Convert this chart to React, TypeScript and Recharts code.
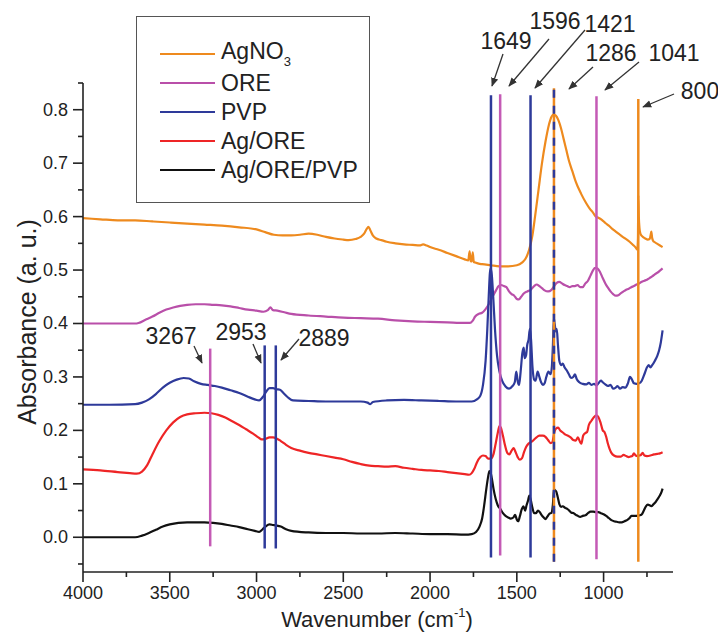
import React from "react";
import {
  LineChart,
  Line,
  XAxis,
  YAxis,
  ReferenceLine,
  Legend,
} from "recharts";

// ---- spectra (wavenumber cm-1 / absorbance a.u.) ----
const agno3Wn = [4000, 3900, 3800, 3700, 3600, 3500, 3400, 3300, 3200, 3100, 3000, 2950, 2900, 2850, 2800, 2750, 2700, 2650, 2600, 2550, 2500, 2470, 2430, 2400, 2380, 2365, 2355, 2345, 2330, 2310, 2280, 2250, 2200, 2150, 2100, 2060, 2040, 2020, 2000, 1950, 1900, 1850, 1800, 1780, 1772, 1766, 1760, 1754, 1748, 1740, 1720, 1700, 1650, 1600, 1550, 1500, 1470, 1450, 1430, 1410, 1395, 1375, 1355, 1335, 1315, 1300, 1290, 1275, 1260, 1245, 1230, 1215, 1200, 1180, 1160, 1130, 1100, 1080, 1060, 1045, 1030, 1010, 990, 970, 950, 930, 910, 890, 870, 850, 830, 815, 806, 802, 800, 797, 793, 788, 780, 770, 760, 745, 735, 729, 725, 720, 715, 705, 690, 675, 660];
const agno3Abs = [0.597, 0.595, 0.593, 0.593, 0.591, 0.589, 0.587, 0.585, 0.583, 0.58, 0.576, 0.571, 0.566, 0.565, 0.565, 0.566, 0.568, 0.566, 0.562, 0.559, 0.557, 0.556, 0.558, 0.562, 0.568, 0.577, 0.581, 0.575, 0.565, 0.559, 0.556, 0.553, 0.55, 0.548, 0.547, 0.546, 0.548, 0.546, 0.543, 0.538, 0.532, 0.526, 0.52, 0.518, 0.535, 0.517, 0.516, 0.533, 0.515, 0.514, 0.512, 0.511, 0.509, 0.507, 0.507, 0.509, 0.514, 0.521, 0.537, 0.565, 0.6, 0.65, 0.7, 0.74, 0.772, 0.787, 0.791, 0.789, 0.78, 0.765, 0.745, 0.725, 0.705, 0.685, 0.665, 0.643, 0.625, 0.615, 0.607, 0.6, 0.598, 0.594, 0.588, 0.583, 0.577, 0.572, 0.567, 0.562, 0.558, 0.553, 0.547, 0.542, 0.538, 0.56, 0.64, 0.6, 0.578, 0.568, 0.564, 0.561, 0.559, 0.557, 0.558, 0.565, 0.572, 0.56, 0.555, 0.552, 0.549, 0.546, 0.543];

const oreWn = [4000, 3850, 3700, 3680, 3640, 3600, 3560, 3520, 3480, 3440, 3400, 3350, 3300, 3250, 3200, 3150, 3100, 3050, 3000, 2960, 2935, 2920, 2905, 2880, 2840, 2800, 2700, 2600, 2500, 2400, 2300, 2200, 2100, 2000, 1900, 1800, 1770, 1755, 1740, 1720, 1700, 1680, 1660, 1640, 1620, 1605, 1590, 1575, 1560, 1545, 1530, 1515, 1500, 1488, 1475, 1460, 1440, 1420, 1400, 1385, 1370, 1355, 1340, 1320, 1300, 1285, 1270, 1255, 1240, 1225, 1210, 1195, 1180, 1165, 1150, 1135, 1120, 1105, 1090, 1075, 1060, 1048, 1035, 1020, 1005, 990, 975, 960, 945, 930, 915, 900, 885, 870, 855, 840, 825, 810, 795, 780, 765, 750, 735, 720, 705, 690, 675, 660];
const oreAbs = [0.4, 0.4, 0.4, 0.401, 0.407, 0.413, 0.42, 0.426, 0.43, 0.433, 0.435, 0.436, 0.436, 0.435, 0.434, 0.432, 0.429, 0.426, 0.424, 0.422, 0.425, 0.43, 0.425, 0.424, 0.421, 0.418, 0.415, 0.413, 0.411, 0.41, 0.409, 0.406, 0.404, 0.403, 0.402, 0.401, 0.401, 0.405, 0.413, 0.418, 0.42, 0.427, 0.437, 0.45, 0.462, 0.47, 0.472, 0.47, 0.468, 0.46, 0.455, 0.452, 0.446, 0.445, 0.45, 0.456, 0.46, 0.463, 0.47, 0.473, 0.47, 0.466, 0.462, 0.46, 0.463, 0.47, 0.476, 0.478, 0.475, 0.472, 0.47, 0.468, 0.47, 0.47, 0.472, 0.468, 0.468, 0.475, 0.48, 0.49, 0.5, 0.504, 0.503, 0.496, 0.485, 0.475, 0.467, 0.46, 0.455, 0.452, 0.453, 0.457, 0.46, 0.463, 0.465, 0.468, 0.47, 0.473, 0.475, 0.478, 0.48, 0.482, 0.485, 0.488, 0.492, 0.495, 0.499, 0.503];

const pvpWn = [4000, 3850, 3700, 3660, 3620, 3580, 3540, 3500, 3460, 3420, 3390, 3360, 3320, 3280, 3240, 3200, 3150, 3100, 3050, 3010, 2985, 2965, 2945, 2925, 2905, 2885, 2865, 2845, 2820, 2790, 2700, 2600, 2500, 2400, 2360, 2345, 2330, 2250, 2150, 2050, 1950, 1850, 1760, 1730, 1710, 1695, 1680, 1670, 1662, 1655, 1650, 1644, 1636, 1626, 1614, 1600, 1585, 1565, 1545, 1525, 1512, 1503, 1495, 1487, 1478, 1468, 1460, 1455, 1447, 1440, 1432, 1425, 1418, 1410, 1400, 1392, 1380, 1370, 1360, 1350, 1340, 1330, 1318, 1305, 1298, 1292, 1287, 1282, 1276, 1270, 1263, 1255, 1245, 1235, 1225, 1212, 1200, 1188, 1175, 1165, 1155, 1140, 1120, 1100, 1085, 1070, 1055, 1040, 1030, 1015, 1005, 990, 975, 960, 945, 930, 920, 905, 890, 875, 860, 848, 838, 825, 810, 795, 780, 765, 750, 740, 730, 720, 705, 690, 680, 670, 660];
const pvpAbs = [0.248, 0.248, 0.249, 0.252, 0.258, 0.268, 0.28, 0.289, 0.295, 0.298, 0.297, 0.292, 0.287, 0.285, 0.283, 0.28, 0.275, 0.27, 0.263, 0.258, 0.256, 0.262, 0.272, 0.279, 0.279, 0.277, 0.276, 0.27, 0.262, 0.256, 0.255, 0.254, 0.254, 0.254, 0.252, 0.249, 0.253, 0.256, 0.257, 0.256, 0.255, 0.254, 0.254, 0.258, 0.265, 0.285, 0.33, 0.39, 0.45, 0.495, 0.503, 0.49, 0.45, 0.39, 0.34, 0.31, 0.293, 0.282, 0.278, 0.283, 0.29, 0.31, 0.292, 0.285, 0.31, 0.345, 0.355, 0.335, 0.34, 0.36, 0.37, 0.39, 0.37, 0.32, 0.295, 0.293, 0.31, 0.3, 0.29, 0.285, 0.288, 0.3, 0.31, 0.305, 0.32, 0.36, 0.41, 0.4, 0.385, 0.39, 0.36, 0.33, 0.322, 0.325, 0.318, 0.312, 0.305, 0.298, 0.3, 0.305, 0.296, 0.29, 0.287, 0.286, 0.289, 0.285, 0.287, 0.284, 0.288, 0.293, 0.29, 0.286, 0.283, 0.285, 0.278, 0.28, 0.283, 0.278, 0.281, 0.28, 0.288, 0.3, 0.296, 0.288, 0.287, 0.288, 0.293, 0.305, 0.318, 0.322, 0.318, 0.322, 0.33, 0.34, 0.35, 0.365, 0.387];

const agOreWn = [4000, 3900, 3800, 3730, 3690, 3660, 3630, 3600, 3560, 3520, 3480, 3440, 3400, 3350, 3300, 3260, 3220, 3180, 3140, 3100, 3060, 3020, 2990, 2970, 2950, 2925, 2905, 2885, 2860, 2830, 2800, 2750, 2700, 2650, 2600, 2550, 2500, 2450, 2400, 2350, 2300, 2250, 2200, 2150, 2100, 2050, 2000, 1950, 1900, 1850, 1800, 1775, 1760, 1745, 1730, 1710, 1695, 1680, 1665, 1650, 1635, 1622, 1610, 1600, 1592, 1580, 1568, 1555, 1543, 1530, 1518, 1508, 1495, 1483, 1470, 1458, 1445, 1430, 1410, 1390, 1370, 1350, 1335, 1320, 1305, 1295, 1285, 1275, 1262, 1250, 1235, 1220, 1205, 1190, 1175, 1160, 1148, 1138, 1128, 1118, 1105, 1095, 1085, 1070, 1055, 1042, 1030, 1018, 1005, 995, 985, 975, 965, 955, 940, 920, 900, 885, 870, 855, 845, 835, 825, 815, 805, 795, 785, 775, 765, 750, 730, 710, 690, 675, 660];
const agOreAbs = [0.127, 0.125, 0.122, 0.12, 0.119, 0.123, 0.135, 0.155, 0.18, 0.2, 0.215, 0.225, 0.23, 0.232, 0.233, 0.232, 0.229, 0.224, 0.217, 0.21, 0.202, 0.194, 0.187, 0.183, 0.184, 0.187, 0.187, 0.185, 0.18, 0.173, 0.167, 0.162, 0.158, 0.155, 0.152, 0.149, 0.146, 0.141, 0.137, 0.134, 0.133, 0.132, 0.133, 0.13, 0.128, 0.126, 0.125, 0.124, 0.122, 0.12, 0.118, 0.117, 0.12, 0.128, 0.14, 0.15, 0.153, 0.152, 0.147, 0.147, 0.155, 0.175, 0.195, 0.208, 0.205, 0.19, 0.172, 0.158, 0.155, 0.162, 0.167, 0.16, 0.15, 0.145, 0.148, 0.16, 0.17, 0.176, 0.18, 0.186, 0.19, 0.19, 0.188, 0.182, 0.176, 0.178, 0.195, 0.203, 0.205, 0.2, 0.196, 0.192, 0.19, 0.187, 0.182, 0.181, 0.187, 0.18, 0.175, 0.19, 0.195, 0.197, 0.21, 0.218, 0.225, 0.228, 0.225, 0.215, 0.2, 0.197, 0.188, 0.175, 0.165, 0.158, 0.153, 0.151, 0.151, 0.154, 0.152, 0.15, 0.151, 0.152, 0.157, 0.153, 0.152, 0.153, 0.154, 0.158, 0.153, 0.152, 0.153, 0.155, 0.156, 0.157, 0.159];

const agOrePvpWn = [4000, 3850, 3700, 3660, 3620, 3580, 3540, 3500, 3450, 3400, 3350, 3300, 3250, 3200, 3150, 3100, 3050, 3010, 2985, 2965, 2945, 2925, 2905, 2885, 2860, 2830, 2800, 2700, 2600, 2500, 2400, 2300, 2200, 2100, 2000, 1900, 1800, 1760, 1735, 1715, 1700, 1688, 1676, 1666, 1658, 1652, 1644, 1634, 1622, 1610, 1595, 1580, 1565, 1550, 1535, 1520, 1510, 1500, 1492, 1482, 1472, 1462, 1452, 1444, 1436, 1428, 1420, 1410, 1400, 1390, 1378, 1368, 1358, 1345, 1335, 1325, 1312, 1300, 1292, 1286, 1280, 1272, 1264, 1255, 1245, 1235, 1222, 1210, 1198, 1185, 1172, 1160, 1148, 1135, 1120, 1105, 1090, 1075, 1060, 1045, 1030, 1015, 1000, 985, 970, 955, 940, 925, 910, 895, 880, 865, 850, 840, 825, 810, 795, 780, 768, 756, 745, 735, 725, 712, 700, 688, 676, 666, 660];
const agOrePvpAbs = [0, 0, 0, 0.003, 0.008, 0.014, 0.02, 0.024, 0.027, 0.028, 0.028, 0.028, 0.027, 0.025, 0.022, 0.019, 0.015, 0.012, 0.01, 0.015, 0.021, 0.024, 0.023, 0.022, 0.02, 0.015, 0.012, 0.009, 0.008, 0.008, 0.007, 0.007, 0.008, 0.007, 0.006, 0.006, 0.005, 0.006, 0.01, 0.02, 0.035, 0.06, 0.09, 0.112, 0.124, 0.122, 0.11, 0.09, 0.072, 0.06, 0.053, 0.045, 0.04, 0.037, 0.035, 0.037, 0.042, 0.033, 0.03, 0.04, 0.052, 0.058, 0.05, 0.06, 0.068, 0.078, 0.07, 0.055, 0.045, 0.045, 0.05, 0.047, 0.042, 0.037, 0.034, 0.038, 0.044, 0.046, 0.062, 0.09, 0.088, 0.085, 0.075, 0.062, 0.057, 0.058, 0.055, 0.053, 0.05, 0.046, 0.045, 0.042, 0.04, 0.038, 0.04, 0.041, 0.045, 0.048, 0.048, 0.047, 0.047, 0.045, 0.043, 0.04, 0.036, 0.032, 0.03, 0.029, 0.028, 0.028, 0.03, 0.032, 0.036, 0.04, 0.04, 0.04, 0.041, 0.043, 0.05, 0.058, 0.061, 0.06, 0.058, 0.062, 0.066, 0.072, 0.078, 0.085, 0.091];

// ---- band markers ----
const markerWn = [3267, 2953, 2889, 1649, 1596, 1421, 1286, 1041, 800];
const markerTop = [0.353, 0.359, 0.359, 0.827, 0.829, 0.827, 0.84, 0.825, 0.82];
const markerBottom = [-0.017, -0.021, -0.021, -0.038, -0.034, -0.038, -0.046, -0.041, -0.046];
const markerKind = ["ore", "pvp", "pvp", "pvp", "ore", "pvp", "mix", "ore", "agno3"];

// ---- axis ticks ----
const xTicks = [4000, 3750, 3500, 3250, 3000, 2750, 2500, 2250, 2000, 1750, 1500, 1250, 1000, 750];
const yTicks = [-0.05, 0, 0.05, 0.1, 0.15, 0.2, 0.25, 0.3, 0.35, 0.4, 0.45, 0.5, 0.55, 0.6, 0.65, 0.7, 0.75, 0.8, 0.85];

const C = {
  agno3: "#EE8A1E",
  ore: "#B94FA9",
  oreMark: "#C45AB5",
  pvp: "#2E3A9A",
  agOre: "#EE2526",
  agOrePvp: "#111111",
  axis: "#222222",
};
const FONT = "'Liberation Sans', Arial, sans-serif";

const zip = (xs: number[], ys: number[]) => xs.map((x, i) => ({ x, y: ys[i] }));

const series = [
  { name: "AgNO3", color: C.agno3, data: zip(agno3Wn, agno3Abs) },
  { name: "ORE", color: C.ore, data: zip(oreWn, oreAbs) },
  { name: "PVP", color: C.pvp, data: zip(pvpWn, pvpAbs) },
  { name: "Ag/ORE", color: C.agOre, data: zip(agOreWn, agOreAbs) },
  { name: "Ag/ORE/PVP", color: C.agOrePvp, data: zip(agOrePvpWn, agOrePvpAbs) },
];

// annotation labels (pixel positions on the page)
const notes = [
  { t: "1649", tx: 506, ty: 41, ax: 503, ay: 54, bx: 492, by: 86 },
  { t: "1596", tx: 555, ty: 21, ax: 549, ay: 39, bx: 509, by: 86 },
  { t: "1421", tx: 610, ty: 24, ax: 585, ay: 30, bx: 535, by: 88 },
  { t: "1286", tx: 611, ty: 53, ax: 593, ay: 67, bx: 569, by: 89 },
  { t: "1041", tx: 674, ty: 53, ax: 639, ay: 62, bx: 605, by: 90 },
  { t: "800", tx: 700, ty: 91, ax: 674, ay: 94, bx: 643, by: 107 },
  { t: "3267", tx: 171, ty: 336, ax: 194, ay: 346, bx: 202, by: 363 },
  { t: "2953", tx: 241, ty: 332, ax: 253, ay: 344, bx: 261, by: 363 },
  { t: "2889", tx: 324, ty: 338, ax: 299, ay: 339, bx: 281, by: 360 },
];

const XTick = (props: any) => {
  const { x, y, payload } = props;
  const v = payload.value;
  const major = v % 500 === 0;
  return (
    <g>
      <line x1={x} x2={x} y1={y} y2={y + (major ? 10 : 5)} stroke={C.axis} strokeWidth={1.6} />
      {major && (
        <text x={x} y={y + 27} textAnchor="middle" fontSize={18} fontFamily={FONT} fill={C.axis}>
          {v}
        </text>
      )}
    </g>
  );
};

const YTick = (props: any) => {
  const { x, y, payload } = props;
  const v = payload.value;
  const major = Math.round(v * 100) % 10 === 0;
  return (
    <g>
      <line x1={x} x2={x - (major ? 10 : 5)} y1={y} y2={y} stroke={C.axis} strokeWidth={1.6} />
      {major && (
        <text x={x - 15} y={y + 6} textAnchor="end" fontSize={18} fontFamily={FONT} fill={C.axis}>
          {v.toFixed(1)}
        </text>
      )}
    </g>
  );
};

const renderLegend = () => (
  <div
    style={{
      width: 234,
      height: 187,
      border: "1.5px solid #555",
      boxSizing: "border-box",
      position: "relative",
      background: "#fff",
      fontFamily: FONT,
    }}
  >
    {series.map((s, i) => (
      <div
        key={s.name}
        style={{
          position: "absolute",
          left: 23,
          top: 22 + i * 29,
          height: 30,
          display: "flex",
          alignItems: "center",
          whiteSpace: "nowrap",
        }}
      >
        <span style={{ display: "inline-block", width: 55, height: 2.5, background: s.color }} />
        <span style={{ marginLeft: 6, fontSize: 23, color: "#222", lineHeight: 1 }}>
          {s.name === "AgNO3" ? (
            <>
              AgNO<sub style={{ fontSize: 13, verticalAlign: -7 }}>3</sub>
            </>
          ) : (
            s.name
          )}
        </span>
      </div>
    ))}
  </div>
);

export default function App() {
  return (
    <div style={{ position: "absolute", left: 0, top: 0, width: 718, height: 633, background: "#fff" }}>
      <LineChart
        width={718}
        height={633}
        margin={{ top: 83, right: 45, bottom: 60, left: 82 }}
      >
        <XAxis
          dataKey="x"
          type="number"
          domain={[600, 4000]}
          reversed
          allowDataOverflow
          ticks={xTicks}
          interval={0}
          height={1}
          tickSize={0}
          tickMargin={0}
          tick={<XTick />}
          tickLine={false}
          axisLine={{ stroke: C.axis, strokeWidth: 1.6 }}
        />
        <YAxis
          type="number"
          domain={[-0.065, 0.85]}
          allowDataOverflow
          ticks={yTicks}
          interval={0}
          width={1}
          tickSize={0}
          tickMargin={0}
          tick={<YTick />}
          tickLine={false}
          axisLine={{ stroke: C.axis, strokeWidth: 1.6 }}
        />
        <Legend
          layout="horizontal"
          verticalAlign="middle"
          align="center"
          content={renderLegend}
          wrapperStyle={{ left: 136, top: 16, width: 234, height: 187 }}
        />
        {series.map((s) => (
          <Line
            key={s.name}
            name={s.name}
            data={s.data}
            dataKey="y"
            type="monotone"
            stroke={s.color}
            strokeWidth={2.2}
            dot={false}
            activeDot={false}
            isAnimationActive={false}
          />
        ))}
        {markerWn.map((w, i) => {
          const kind = markerKind[i];
          const seg = [
            { x: w, y: markerBottom[i] },
            { x: w, y: markerTop[i] },
          ];
          if (kind === "mix") {
            return [
              <ReferenceLine key={`m${i}a`} segment={seg} stroke={C.agno3} strokeWidth={2.5} />,
              <ReferenceLine key={`m${i}b`} segment={seg} stroke={C.pvp} strokeWidth={2.5} strokeDasharray="8 8" />,
            ];
          }
          const color = kind === "ore" ? C.oreMark : kind === "pvp" ? C.pvp : C.agno3;
          return <ReferenceLine key={`m${i}`} segment={seg} stroke={color} strokeWidth={2.5} />;
        })}
      </LineChart>
      <svg
        width={718}
        height={633}
        style={{ position: "absolute", left: 0, top: 0, pointerEvents: "none" }}
        fontFamily={FONT}
      >
        <defs>
          <marker id="arr" viewBox="0 0 10 10" refX="9" refY="5" markerWidth="7" markerHeight="7" orient="auto-start-reverse">
            <path d="M0,1 L10,5 L0,9 z" fill="#333" />
          </marker>
        </defs>
        {notes.map((n) => (
          <g key={n.t}>
            <line x1={n.ax} y1={n.ay} x2={n.bx} y2={n.by} stroke="#333" strokeWidth={1.3} markerEnd="url(#arr)" />
            <text x={n.tx} y={n.ty + 8} textAnchor="middle" fontSize={23} fill="#222">
              {n.t}
            </text>
          </g>
        ))}
        <text x={377} y={627} textAnchor="middle" fontSize={22} fill="#222">
          Wavenumber (cm
          <tspan fontSize={13} dy={-10}>-1</tspan>
          <tspan dy={10}>)</tspan>
        </text>
        <text
          x={0}
          y={0}
          transform="translate(36 322) rotate(-90)"
          textAnchor="middle"
          fontSize={25}
          fill="#222"
        >
          Absorbance (a. u.)
        </text>
      </svg>
    </div>
  );
}
